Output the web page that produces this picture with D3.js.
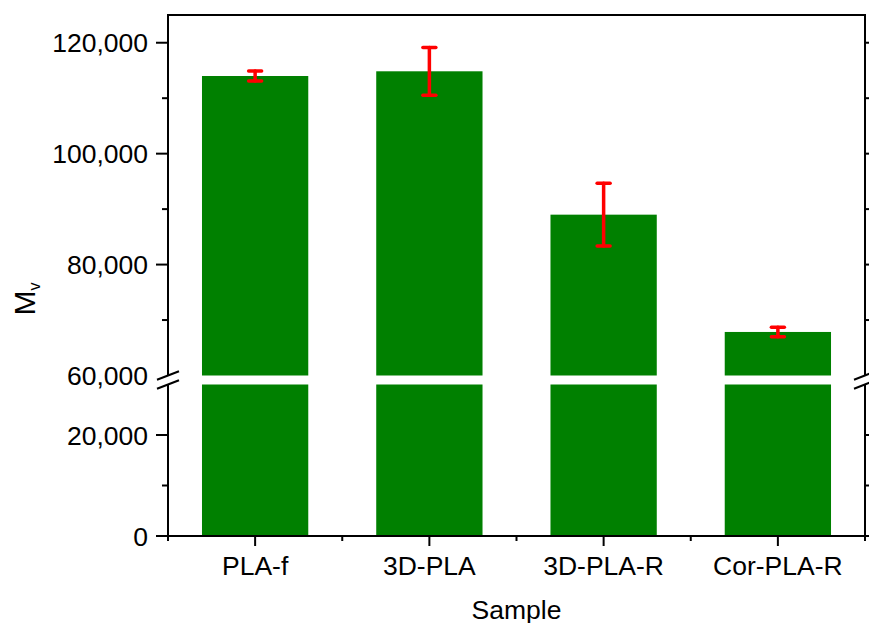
<!DOCTYPE html>
<html>
<head>
<meta charset="utf-8">
<script src="https://cdn.jsdelivr.net/npm/d3@7/dist/d3.min.js"></script>
<style>
  html, body { margin: 0; padding: 0; background: #fff; }
  svg { display: block; }
  text { font-family: "Liberation Sans", Arial, sans-serif; fill: #000; }
</style>
</head>
<body>
<svg id="chart" width="869" height="623"></svg>
<script>
// Viscosity-average molecular weight per sample
const samples = ["PLA-f", "3D-PLA", "3D-PLA-R", "Cor-PLA-R"];
const mvMean = [114000, 114850, 89000, 67850];
const mvError = [900, 4300, 5650, 850];

// Broken y axis: two segments with their own ticks
const upperDomain = [60000, 125000];
const lowerDomain = [0, 30000];
const upperTicks = [60000, 80000, 100000, 120000];
const upperMinor = [70000, 90000, 110000];
const lowerTicks = [0, 20000];
const lowerMinor = [10000];

const xTitle = "Sample";
const yTitleMain = "M";
const yTitleSub = "v";

const plotLeft = 168, plotRight = 865, plotTop = 15, plotBottom = 536;
const upperBottom = 375.5, lowerTop = 384.5;
const fontSize = 26.5;

const svg = d3.select("#chart");
const fmt = d3.format(",");

const x = d3.scaleBand().domain(samples).range([plotLeft, plotRight])
  .paddingInner(0.39).paddingOuter(0.195);
const yU = d3.scaleLinear().domain(upperDomain).range([upperBottom, plotTop]);
const yL = d3.scaleLinear().domain(lowerDomain).range([plotBottom, lowerTop]);

const data = samples.map((s, i) => ({ s, v: mvMean[i], e: mvError[i] }));

// Bars, split across the two segments
const bars = svg.append("g");
bars.selectAll("rect.lower").data(data).join("rect")
  .attr("class", "lower")
  .attr("x", d => x(d.s)).attr("width", x.bandwidth())
  .attr("y", d => yL(Math.min(d.v, lowerDomain[1])))
  .attr("height", d => yL(0) - yL(Math.min(d.v, lowerDomain[1])))
  .attr("fill", "#008000");
bars.selectAll("rect.upper").data(data.filter(d => d.v > upperDomain[0])).join("rect")
  .attr("class", "upper")
  .attr("x", d => x(d.s)).attr("width", x.bandwidth())
  .attr("y", d => yU(d.v))
  .attr("height", d => yU(upperDomain[0]) - yU(d.v))
  .attr("fill", "#008000");

// Error bars
const eb = svg.append("g").attr("stroke", "#ff0000").attr("stroke-width", 3.5)
  .attr("stroke-linecap", "round").attr("fill", "none");
const cap = 6.5;
data.forEach(d => {
  const cx = x(d.s) + x.bandwidth() / 2;
  const y1 = yU(d.v + d.e), y2 = yU(d.v - d.e);
  eb.append("line").attr("x1", cx).attr("x2", cx).attr("y1", y1).attr("y2", y2);
  eb.append("line").attr("x1", cx - cap).attr("x2", cx + cap).attr("y1", y1).attr("y2", y1);
  eb.append("line").attr("x1", cx - cap).attr("x2", cx + cap).attr("y1", y2).attr("y2", y2);
});

// Frame and axes
const axes = svg.append("g").attr("stroke", "#000").attr("stroke-width", 2).attr("fill", "none");
// top border
axes.append("line").attr("x1", plotLeft - 1).attr("x2", plotRight + 1).attr("y1", plotTop).attr("y2", plotTop);
// left and right axis lines, interrupted at the break
[plotLeft, plotRight].forEach(px => {
  axes.append("line").attr("x1", px).attr("x2", px).attr("y1", plotTop).attr("y2", upperBottom);
  axes.append("line").attr("x1", px).attr("x2", px).attr("y1", lowerTop).attr("y2", plotBottom + 1);
  // break marks
  [upperBottom, lowerTop].forEach(cy => {
    axes.append("line").attr("x1", px - 11).attr("x2", px + 11)
      .attr("y1", cy + 4.3).attr("y2", cy - 4.3);
  });
});
// bottom axis line
axes.append("line").attr("x1", plotLeft - 1).attr("x2", plotRight + 1).attr("y1", plotBottom).attr("y2", plotBottom);

// y tick marks on both sides
const drawYTicks = (vals, scale, len) => {
  vals.forEach(v => {
    const py = scale(v);
    axes.append("line").attr("x1", plotLeft - len).attr("x2", plotLeft).attr("y1", py).attr("y2", py);
    axes.append("line").attr("x1", plotRight).attr("x2", plotRight + len).attr("y1", py).attr("y2", py);
  });
};
drawYTicks(upperTicks.filter(v => v !== upperDomain[0]), yU, 12);
drawYTicks(upperMinor, yU, 6);
drawYTicks(lowerTicks, yL, 12);
drawYTicks(lowerMinor, yL, 6);

// y tick labels
const labels = svg.append("g").attr("font-size", fontSize).attr("text-anchor", "end");
upperTicks.forEach(v => {
  labels.append("text").attr("x", plotLeft - 20).attr("y", yU(v)).attr("dy", "0.36em").text(fmt(v));
});
lowerTicks.forEach(v => {
  labels.append("text").attr("x", plotLeft - 20).attr("y", yL(v)).attr("dy", "0.36em").text(fmt(v));
});

// x axis: major ticks at categories, minor ticks at band edges
const step = x.step();
samples.forEach(s => {
  const cx = x(s) + x.bandwidth() / 2;
  axes.append("line").attr("x1", cx).attr("x2", cx).attr("y1", plotBottom).attr("y2", plotBottom + 10);
});
d3.range(samples.length + 1).forEach(k => {
  const px = plotLeft + k * step;
  axes.append("line").attr("x1", px).attr("x2", px).attr("y1", plotBottom).attr("y2", plotBottom + 5);
});
svg.append("g").attr("font-size", fontSize).attr("text-anchor", "middle")
  .selectAll("text").data(samples).join("text")
  .attr("x", d => x(d) + x.bandwidth() / 2)
  .attr("y", 575)
  .text(d => d);

// Axis titles
svg.append("text").attr("x", (plotLeft + plotRight) / 2).attr("y", 619)
  .attr("text-anchor", "middle").attr("font-size", fontSize).text(xTitle);

const yt = svg.append("text").attr("transform", "translate(35,299) rotate(-90)")
  .attr("text-anchor", "middle").attr("font-size", 30);
yt.append("tspan").text(yTitleMain);
yt.append("tspan").attr("font-size", 16).attr("dy", 5).text(yTitleSub);
</script>
</body>
</html>
